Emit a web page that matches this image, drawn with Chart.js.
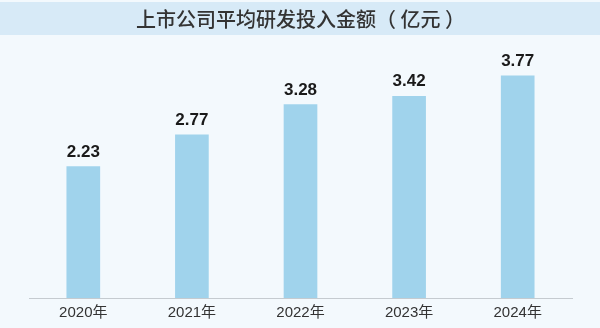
<!DOCTYPE html>
<html>
<head>
<meta charset="utf-8">
<script src="https://cdn.jsdelivr.net/npm/chart.js@4"></script>
<style>
  html, body { margin: 0; padding: 0; background: #f3f9fd; }
  #wrap { width: 600px; height: 328px; }
</style>
</head>
<body>
<div id="wrap"><canvas id="rdChart" width="600" height="328"></canvas></div>
<script>
// data
var years = ["2020年", "2021年", "2022年", "2023年", "2024年"];
var rdSpend = [2.23, 2.77, 3.28, 3.42, 3.77];

// light background + title band
var bandPlugin = {
    id: "band",
    beforeDraw: function (chart) {
        var c = chart.ctx;
        c.save();
        c.fillStyle = "#f3f9fd";
        c.fillRect(0, 0, chart.width, chart.height);
        c.fillStyle = "#d7eaf7";
        c.fillRect(0, 2, chart.width, 33);
        c.restore();
    }
};

// values above the bars
var valuePlugin = {
    id: "values",
    afterDatasetsDraw: function (chart) {
        var c = chart.ctx;
        var meta = chart.getDatasetMeta(0);
        c.save();
        c.font = "bold 17px 'Liberation Sans', Arial, sans-serif";
        c.fillStyle = "#1a1a1a";
        c.textAlign = "center";
        c.textBaseline = "bottom";
        meta.data.forEach(function (bar, i) {
            c.fillText(rdSpend[i].toFixed(2), bar.x, bar.y - 6);
        });
        c.restore();
    }
};

var ctx = document.getElementById("rdChart");
var rdChart = new Chart(ctx, {
    type: "bar",
    data: {
        labels: years,
        datasets: [{
            data: rdSpend,
            backgroundColor: "#a0d3ec",
            borderWidth: 0,
            barPercentage: 0.31,
            categoryPercentage: 1
        }]
    },
    options: {
        responsive: false,
        animation: false,
        layout: {
            padding: { top: 0, right: 28, bottom: 0, left: 29 }
        },
        plugins: {
            legend: { display: false },
            tooltip: { enabled: false },
            title: {
                display: true,
                text: "上市公司平均研发投入金额（ 亿元 ）",
                color: "#333333",
                font: { family: "'Noto Sans CJK SC', sans-serif", size: 20, weight: "500", lineHeight: 1.2 },
                padding: { top: 7, bottom: 19 }
            }
        },
        scales: {
            x: {
                grid: { display: false, drawTicks: false },
                border: { display: true, color: "#c5cbd0", width: 1 },
                ticks: {
                    color: "#333333",
                    padding: 6,
                    font: { family: "'Liberation Sans', 'Noto Sans CJK SC', sans-serif", size: 15, lineHeight: 1.2 }
                }
            },
            y: {
                display: false,
                min: 0,
                max: 4.2
            }
        }
    },
    plugins: [bandPlugin, valuePlugin]
});
</script>
</body>
</html>
